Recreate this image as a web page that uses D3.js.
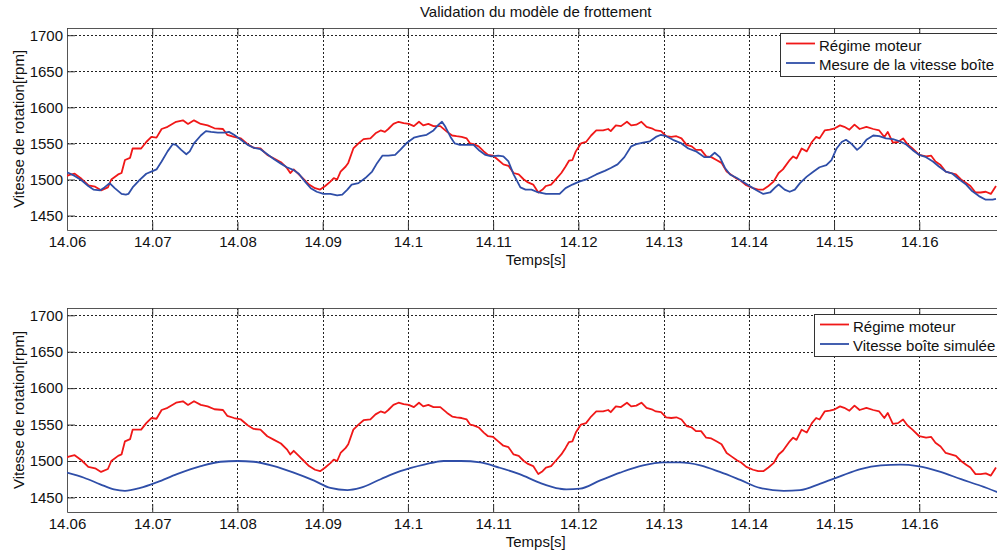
<!DOCTYPE html>
<html><head><meta charset="utf-8">
<script src="https://cdn.jsdelivr.net/npm/d3@7"></script>
<style>
html,body{margin:0;padding:0;background:#fff;overflow:hidden}
svg{display:block;font-family:"Liberation Sans",Arial,sans-serif}
</style></head>
<body>
<svg id="chart" width="997" height="551"></svg>
<script>
const title = "Validation du modèle de frottement";
const xLabel = "Temps[s]";
const yLabel = "Vitesse de rotation[rpm]";
const xTicks = [14.06,14.07,14.08,14.09,14.1,14.11,14.12,14.13,14.14,14.15,14.16];
const yTicks = [1450,1500,1550,1600,1650,1700];
const legendTop = ["Régime moteur","Mesure de la vitesse boîte"];
const legendBottom = ["Régime moteur","Vitesse boîte simulée"];

// Régime moteur (measured engine speed)
const regimeT = [14.0600,14.0602,14.0609,14.0617,14.0625,14.0633,14.0640,14.0648,14.0652,14.0660,14.0664,14.0668,14.0674,14.0677,14.0687,14.0693,14.0699,14.0705,14.0711,14.0718,14.0728,14.0736,14.0742,14.0749,14.0757,14.0765,14.0773,14.0783,14.0788,14.0796,14.0804,14.0812,14.0819,14.0827,14.0835,14.0843,14.0851,14.0858,14.0862,14.0866,14.0872,
14.0878,14.0884,14.0891,14.0897,14.0903,14.0909,14.0913,14.0917,14.0921,14.0927,14.0930,14.0936,14.0942,14.0948,14.0956,14.0962,14.0968,14.0973,14.0977,14.0983,14.0989,14.0995,14.1001,14.1007,14.1013,14.1018,14.1024,14.1030,14.1038,14.1046,14.1052,14.1057,14.1063,14.1069,14.1073,14.1077,14.1083,14.1089,14.1094,14.1100,14.1106,14.1112,14.1118,14.1124,14.1130,14.1136,14.1141,14.1147,14.1153,
14.1158,14.1162,14.1168,14.1174,14.1180,14.1185,14.1189,14.1193,14.1197,14.1203,14.1209,14.1215,14.1221,14.1229,14.1235,14.1238,14.1244,14.1250,14.1257,14.1262,14.1268,14.1274,14.1280,14.1286,14.1291,14.1297,14.1303,14.1309,14.1315,14.1321,14.1327,14.1333,14.1338,14.1344,14.1350,14.1356,14.1362,14.1368,14.1374,14.1380,14.1386,14.1391,14.1397,14.1405,14.1411,14.1417,14.1423,14.1429,14.1435,14.1440,
14.1448,14.1452,14.1456,14.1462,14.1468,14.1474,14.1479,14.1483,14.1489,14.1495,14.1501,14.1507,14.1512,14.1518,14.1524,14.1530,14.1538,14.1546,14.1553,14.1559,14.1563,14.1569,14.1575,14.1581,14.1586,14.1592,14.1600,14.1608,14.1614,14.1619,14.1625,14.1631,14.1637,14.1643,14.1649,14.1655,14.1660,14.1666,14.1672,14.1678,14.1684,14.1690];
const regimeV = [1505,1506,1508,1501,1492,1490,1485,1489,1500,1507,1509,1527,1530,1543,1543,1552,1559,1558,1570,1573,1580,1582,1577,1582,1577,1575,1571,1570,1562,1559,1557,1549,1544,1543,1534,1529,1524,1516,1509,1514,1507,
1500,1493,1488,1486,1491,1497,1502,1500,1511,1518,1523,1543,1550,1556,1557,1564,1568,1566,1570,1577,1580,1578,1577,1574,1580,1575,1577,1574,1574,1566,1561,1560,1559,1557,1550,1549,1546,1539,1534,1533,1527,1521,1519,1509,1507,1500,1496,1493,1482,
1486,1491,1493,1501,1509,1518,1526,1527,1539,1550,1552,1561,1568,1568,1570,1567,1575,1574,1580,1575,1576,1580,1573,1571,1568,1567,1560,1559,1560,1557,1548,1546,1541,1541,1532,1531,1527,1523,1511,1506,1501,1498,1492,1488,1486,1486,1491,1497,1509,1514,
1527,1532,1529,1543,1539,1552,1559,1557,1568,1569,1571,1575,1573,1569,1576,1570,1573,1570,1568,1559,1566,1551,1552,1557,1549,1543,1534,1532,1533,1525,1520,1511,1509,1507,1500,1495,1491,1482,1482,1483,1480,1491];

// Mesure de la vitesse boîte (measured gearbox speed)
const mesureT = [14.0600,14.0602,14.0609,14.0617,14.0625,14.0631,14.0639,14.0644,14.0650,14.0656,14.0664,14.0669,14.0672,14.0677,14.0685,14.0693,14.0701,14.0705,14.0711,14.0718,14.0724,14.0728,14.0734,14.0740,14.0744,14.0749,14.0757,14.0763,14.0769,14.0777,14.0785,14.0790,14.0796,14.0804,14.0812,14.0819,14.0827,14.0835,14.0843,14.0851,14.0858,14.0866,14.0872,14.0880,
14.0886,14.0893,14.0901,14.0909,14.0917,14.0923,14.0929,14.0934,14.0942,14.0950,14.0958,14.0964,14.0970,14.0977,14.0985,14.0991,14.0999,14.1007,14.1014,14.1022,14.1030,14.1036,14.1040,14.1044,14.1050,14.1055,14.1061,14.1069,14.1077,14.1083,14.1091,14.1098,14.1106,14.1112,14.1118,14.1124,14.1132,14.1138,14.1145,14.1151,
14.1162,14.1170,14.1178,14.1185,14.1193,14.1201,14.1211,14.1221,14.1231,14.1238,14.1246,14.1254,14.1262,14.1268,14.1276,14.1284,14.1291,14.1297,14.1303,14.1311,14.1321,14.1329,14.1338,14.1348,14.1354,14.1360,14.1366,14.1372,14.1378,14.1386,14.1393,14.1401,14.1409,14.1417,14.1425,14.1431,14.1435,
14.1442,14.1448,14.1454,14.1460,14.1468,14.1476,14.1483,14.1491,14.1497,14.1503,14.1509,14.1514,14.1520,14.1527,14.1532,14.1538,14.1546,14.1553,14.1561,14.1569,14.1577,14.1584,14.1592,14.1600,14.1608,14.1616,14.1623,14.1631,14.1639,14.1647,14.1655,14.1662,14.1670,14.1678,14.1686,14.1690];
const mesureV = [1510,1509,1505,1499,1491,1486,1485,1489,1495,1488,1480,1479,1480,1489,1499,1508,1512,1514,1525,1539,1549,1548,1541,1535,1539,1550,1561,1567,1566,1565,1565,1566,1562,1555,1548,1544,1542,1535,1528,1522,1517,1513,1508,1496,
1488,1483,1480,1480,1478,1479,1486,1493,1495,1502,1511,1523,1533,1533,1534,1541,1551,1558,1560,1562,1568,1576,1580,1573,1559,1550,1548,1548,1548,1541,1534,1532,1533,1532,1525,1507,1489,1486,1486,1483,
1480,1480,1480,1488,1493,1497,1501,1507,1512,1516,1521,1531,1546,1549,1551,1553,1559,1562,1560,1555,1550,1543,1539,1531,1531,1537,1531,1516,1507,1502,1497,1491,1485,1480,1482,1489,1493,
1486,1483,1486,1495,1504,1511,1517,1520,1527,1543,1552,1555,1550,1541,1546,1555,1561,1560,1557,1556,1553,1549,1541,1534,1531,1525,1518,1511,1508,1500,1493,1484,1477,1472,1472,1473];

// Vitesse boîte simulée (simulated gearbox speed)
const simuleeT = [14.0600,14.0620,14.0639,14.0655,14.0668,14.0686,14.0706,14.0729,14.0757,14.0780,14.0800,14.0819,14.0843,14.0866,14.0890,14.0909,14.0929,14.0944,14.0968,14.0991,14.1019,14.1042,14.1062,14.1085,14.1107,14.1131,14.1155,14.1178,14.1186,14.1202,14.1225,14.1249,14.1276,14.1300,14.1319,14.1343,14.1366,14.1390,14.1413,14.1441,14.1460,14.1484,14.1507,14.1531,14.1555,14.1578,14.1598,14.1625,14.1649,14.1672,14.1692];
const simuleeV = [1484,1477,1468,1461,1459,1463,1471,1482,1493,1499,1500,1499,1493,1484,1473,1463,1460,1463,1475,1486,1495,1500,1500,1498,1491,1482,1470,1462,1461,1462,1473,1484,1494,1498,1498,1494,1485,1474,1463,1459,1460,1469,1479,1489,1494,1495,1493,1485,1475,1466,1457];

const RED = "#f01818", BLUE = "#2f4ea8", FONT = 15, LW = 1.8;
const svg = d3.select("#chart");
const X0 = 67, X1 = 1004.5;

svg.append("text").attr("x",(X0+X1)/2).attr("y",17).attr("text-anchor","middle")
  .attr("font-size",FONT).attr("fill","#111").text(title);

function panel(id, top, bottom, series, legendLabels, leg) {
  const x = d3.scaleLinear().domain([14.06,14.17]).range([X0,X1]);
  const y = d3.scaleLinear().domain([1430,1710]).range([bottom,top]);
  const g = svg.append("g");
  g.append("clipPath").attr("id",id).append("rect")
    .attr("x",X0).attr("y",top).attr("width",X1-X0).attr("height",bottom-top);
  // grid
  g.append("g").selectAll("line").data(xTicks.slice(1)).join("line")
    .attr("x1",d=>Math.round(x(d))+0.5).attr("x2",d=>Math.round(x(d))+0.5)
    .attr("y1",top).attr("y2",bottom)
    .attr("stroke","#222").attr("stroke-dasharray","2,2").attr("stroke-width",1);
  g.append("g").selectAll("line").data(yTicks).join("line")
    .attr("y1",d=>Math.round(y(d))+0.5).attr("y2",d=>Math.round(y(d))+0.5)
    .attr("x1",X0).attr("x2",X1)
    .attr("stroke","#222").attr("stroke-dasharray","2,2").attr("stroke-width",1);
  // axes
  const ax = g.append("g").attr("transform",`translate(0,${bottom})`)
    .call(d3.axisBottom(x).tickValues(xTicks).tickFormat(d3.format("~g")).tickSize(-8).tickSizeOuter(0).tickPadding(6.5));
  const axT = g.append("g").attr("transform",`translate(0,${top})`)
    .call(d3.axisTop(x).tickValues(xTicks).tickFormat("").tickSize(-8).tickSizeOuter(0));
  const ay = g.append("g").attr("transform",`translate(${X0},0)`)
    .call(d3.axisLeft(y).tickValues(yTicks).tickFormat(d3.format("d")).tickSize(-8).tickSizeOuter(0).tickPadding(4));
  [ax,axT,ay].forEach(a=>{
    a.selectAll("path").attr("stroke","#555");
    a.selectAll("line").attr("stroke","#333");
    a.selectAll("text").attr("font-size",FONT).attr("fill","#111")
      .attr("font-family",'"Liberation Sans",Arial,sans-serif');
  });
  // lines
  const lg = g.append("g").attr("clip-path",`url(#${id})`);
  series.forEach(s=>{
    const pts = s.t.map((t,i)=>[t,s.v[i]]);
    lg.append("path").datum(pts)
      .attr("d",d3.line().x(d=>x(d[0])).y(d=>y(d[1])).curve(s.curve||d3.curveLinear))
      .attr("fill","none").attr("stroke",s.color).attr("stroke-width",LW)
      .attr("stroke-linejoin","round");
  });
  // labels
  svg.append("text").attr("x",(X0+X1)/2).attr("y",bottom+35).attr("text-anchor","middle")
    .attr("font-size",FONT).attr("fill","#111").text(xLabel);
  svg.append("text").attr("transform",`translate(24,${(top+bottom)/2}) rotate(-90)`)
    .attr("text-anchor","middle").attr("font-size",FONT).attr("fill","#111").text(yLabel);
  // legend
  const L = svg.append("g");
  L.append("rect").attr("x",leg.x+0.5).attr("y",leg.y+0.5).attr("width",300).attr("height",leg.h)
    .attr("fill","#fff").attr("stroke","#333").attr("stroke-width",1);
  legendLabels.forEach((lab,i)=>{
    const ly = leg.y + 10.5 + i*19.5;
    L.append("line").attr("x1",leg.x+6).attr("x2",leg.x+35).attr("y1",ly).attr("y2",ly)
      .attr("stroke",series[i].color).attr("stroke-width",LW);
    L.append("text").attr("x",leg.x+39).attr("y",ly+7).attr("font-size",FONT).attr("fill","#111").text(lab);
  });
}

panel("c1",28,230,[
  {t:regimeT,v:regimeV,color:RED},
  {t:mesureT,v:mesureV,color:BLUE}
], legendTop, {x:780,y:33,h:43});

panel("c2",308,512,[
  {t:regimeT,v:regimeV,color:RED},
  {t:simuleeT,v:simuleeV,color:BLUE,curve:d3.curveMonotoneX}
], legendBottom, {x:814,y:314,h:42});
</script>
</body></html>
